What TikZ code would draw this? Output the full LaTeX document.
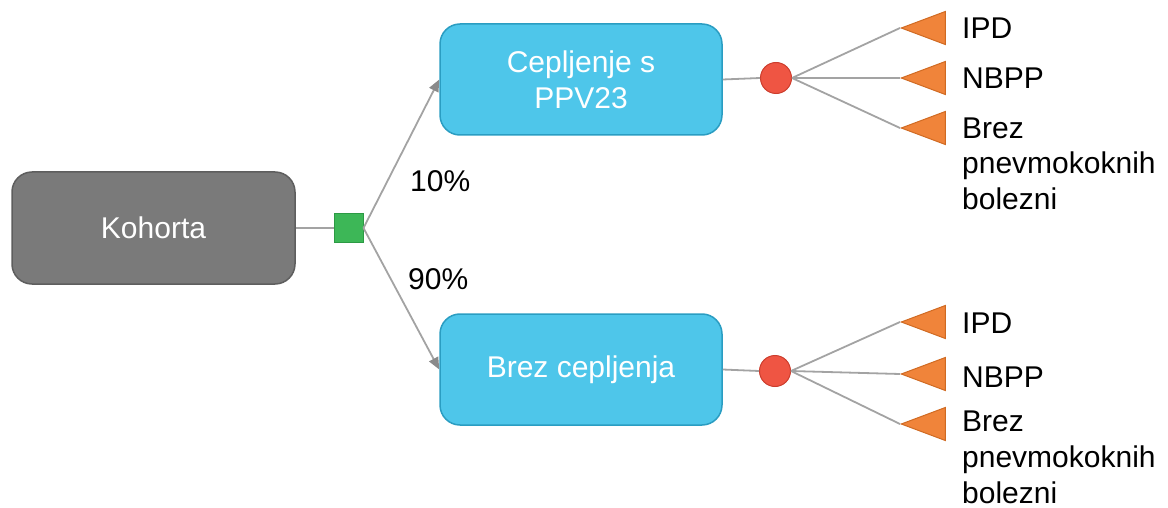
\documentclass[tikz,border=0pt]{standalone}
\usepackage{fontspec}
\setmainfont{Liberation Sans}
\usetikzlibrary{shapes.geometric,arrows.meta}
\definecolor{boxgray}{HTML}{7A7A7A}
\definecolor{boxgrayline}{HTML}{5E5E5E}
\definecolor{cyanfill}{HTML}{4EC6EA}
\definecolor{cyanline}{HTML}{2A9DC2}
\definecolor{greenfill}{HTML}{3DB757}
\definecolor{greenline}{HTML}{2C9A44}
\definecolor{redfill}{HTML}{EF5543}
\definecolor{redline}{HTML}{CC3D2D}
\definecolor{orangefill}{HTML}{F0843A}
\definecolor{orangeline}{HTML}{D06A22}
\definecolor{conn}{HTML}{A3A3A3}
\definecolor{tipgray}{HTML}{8A8A8A}
\begin{document}
\begin{tikzpicture}[x=1pt,y=-1pt,
  txt/.style={font=\fontsize{30}{36}\selectfont},
  graybox/.style={draw=boxgrayline,fill=boxgray,line width=1.5pt,rounded corners=20pt,
    minimum width=283pt,minimum height=112pt,text=white,txt,align=center,inner sep=0pt},
  cyanbox/.style={draw=cyanline,fill=cyanfill,line width=1.5pt,rounded corners=20pt,
    minimum width=282pt,minimum height=111pt,text=white,txt,align=center,inner sep=0pt},
  decision/.style={draw=greenline,fill=greenfill,line width=1pt,minimum size=29pt,inner sep=0pt},
  chance/.style={circle,draw=redline,fill=redfill,line width=1pt,minimum size=31pt,inner sep=0pt},
  terminal/.style={isosceles triangle,isosceles triangle stretches,shape border rotate=180,
    draw=orangeline,fill=orangefill,line width=1pt,minimum width=33pt,minimum height=44pt,inner sep=0pt,anchor=apex},
  link/.style={draw=conn,line width=1.8pt},
  arrowlink/.style={link,-{Triangle[length=12pt,width=10pt,color=tipgray]}},
  lbl/.style={txt,inner sep=0pt,anchor=base west,align=left}
]
\useasboundingbox (0,0) rectangle (1168,508);
\node[graybox] (koh) at (153.5,228) {Kohorta};
\node[decision] (dec) at (348.5,228) {};
\node[cyanbox] (vac) at (581,79.5) {Cepljenje s\\PPV23};
\node[cyanbox] (nov) at (581,369.5) {Brez cepljenja};
\node[chance] (c1) at (776,78) {};
\node[chance] (c2) at (775,371) {};
\node[txt,anchor=base west,inner sep=0pt] (p10) at (410,192) {10\%};
\node[txt,anchor=base west,inner sep=0pt] (p90) at (408,289) {90\%};

\node[terminal] (t11) at (900,28) {};
\node[terminal] (t12) at (900,78) {};
\node[terminal] (t13) at (900,128) {};
\node[terminal] (t21) at (900,322) {};
\node[terminal] (t22) at (900,374) {};
\node[terminal] (t23) at (900,424) {};

\node[lbl] (l11) at (962,39) {IPD};
\node[lbl] (l12) at (962,89) {NBPP};
\node[lbl] (l13) at (962,210) {Brez\\pnevmokoknih\\bolezni};
\node[lbl] (l21) at (962,333) {IPD};
\node[lbl] (l22) at (962,387) {NBPP};
\node[lbl] (l23) at (962,503) {Brez\\pnevmokoknih\\bolezni};

\draw[link] (koh.east) -- (dec.west);
\draw[arrowlink] (dec.east) -- (vac.west);
\draw[arrowlink] (dec.east) -- (nov.west);
\draw[link] (vac.east) -- (c1.west);
\draw[link] (nov.east) -- (c2.west);
\foreach \t in {t11,t12,t13} \draw[link] (c1.east) -- (\t.apex);
\foreach \t in {t21,t22,t23} \draw[link] (c2.east) -- (\t.apex);
\end{tikzpicture}
\end{document}
